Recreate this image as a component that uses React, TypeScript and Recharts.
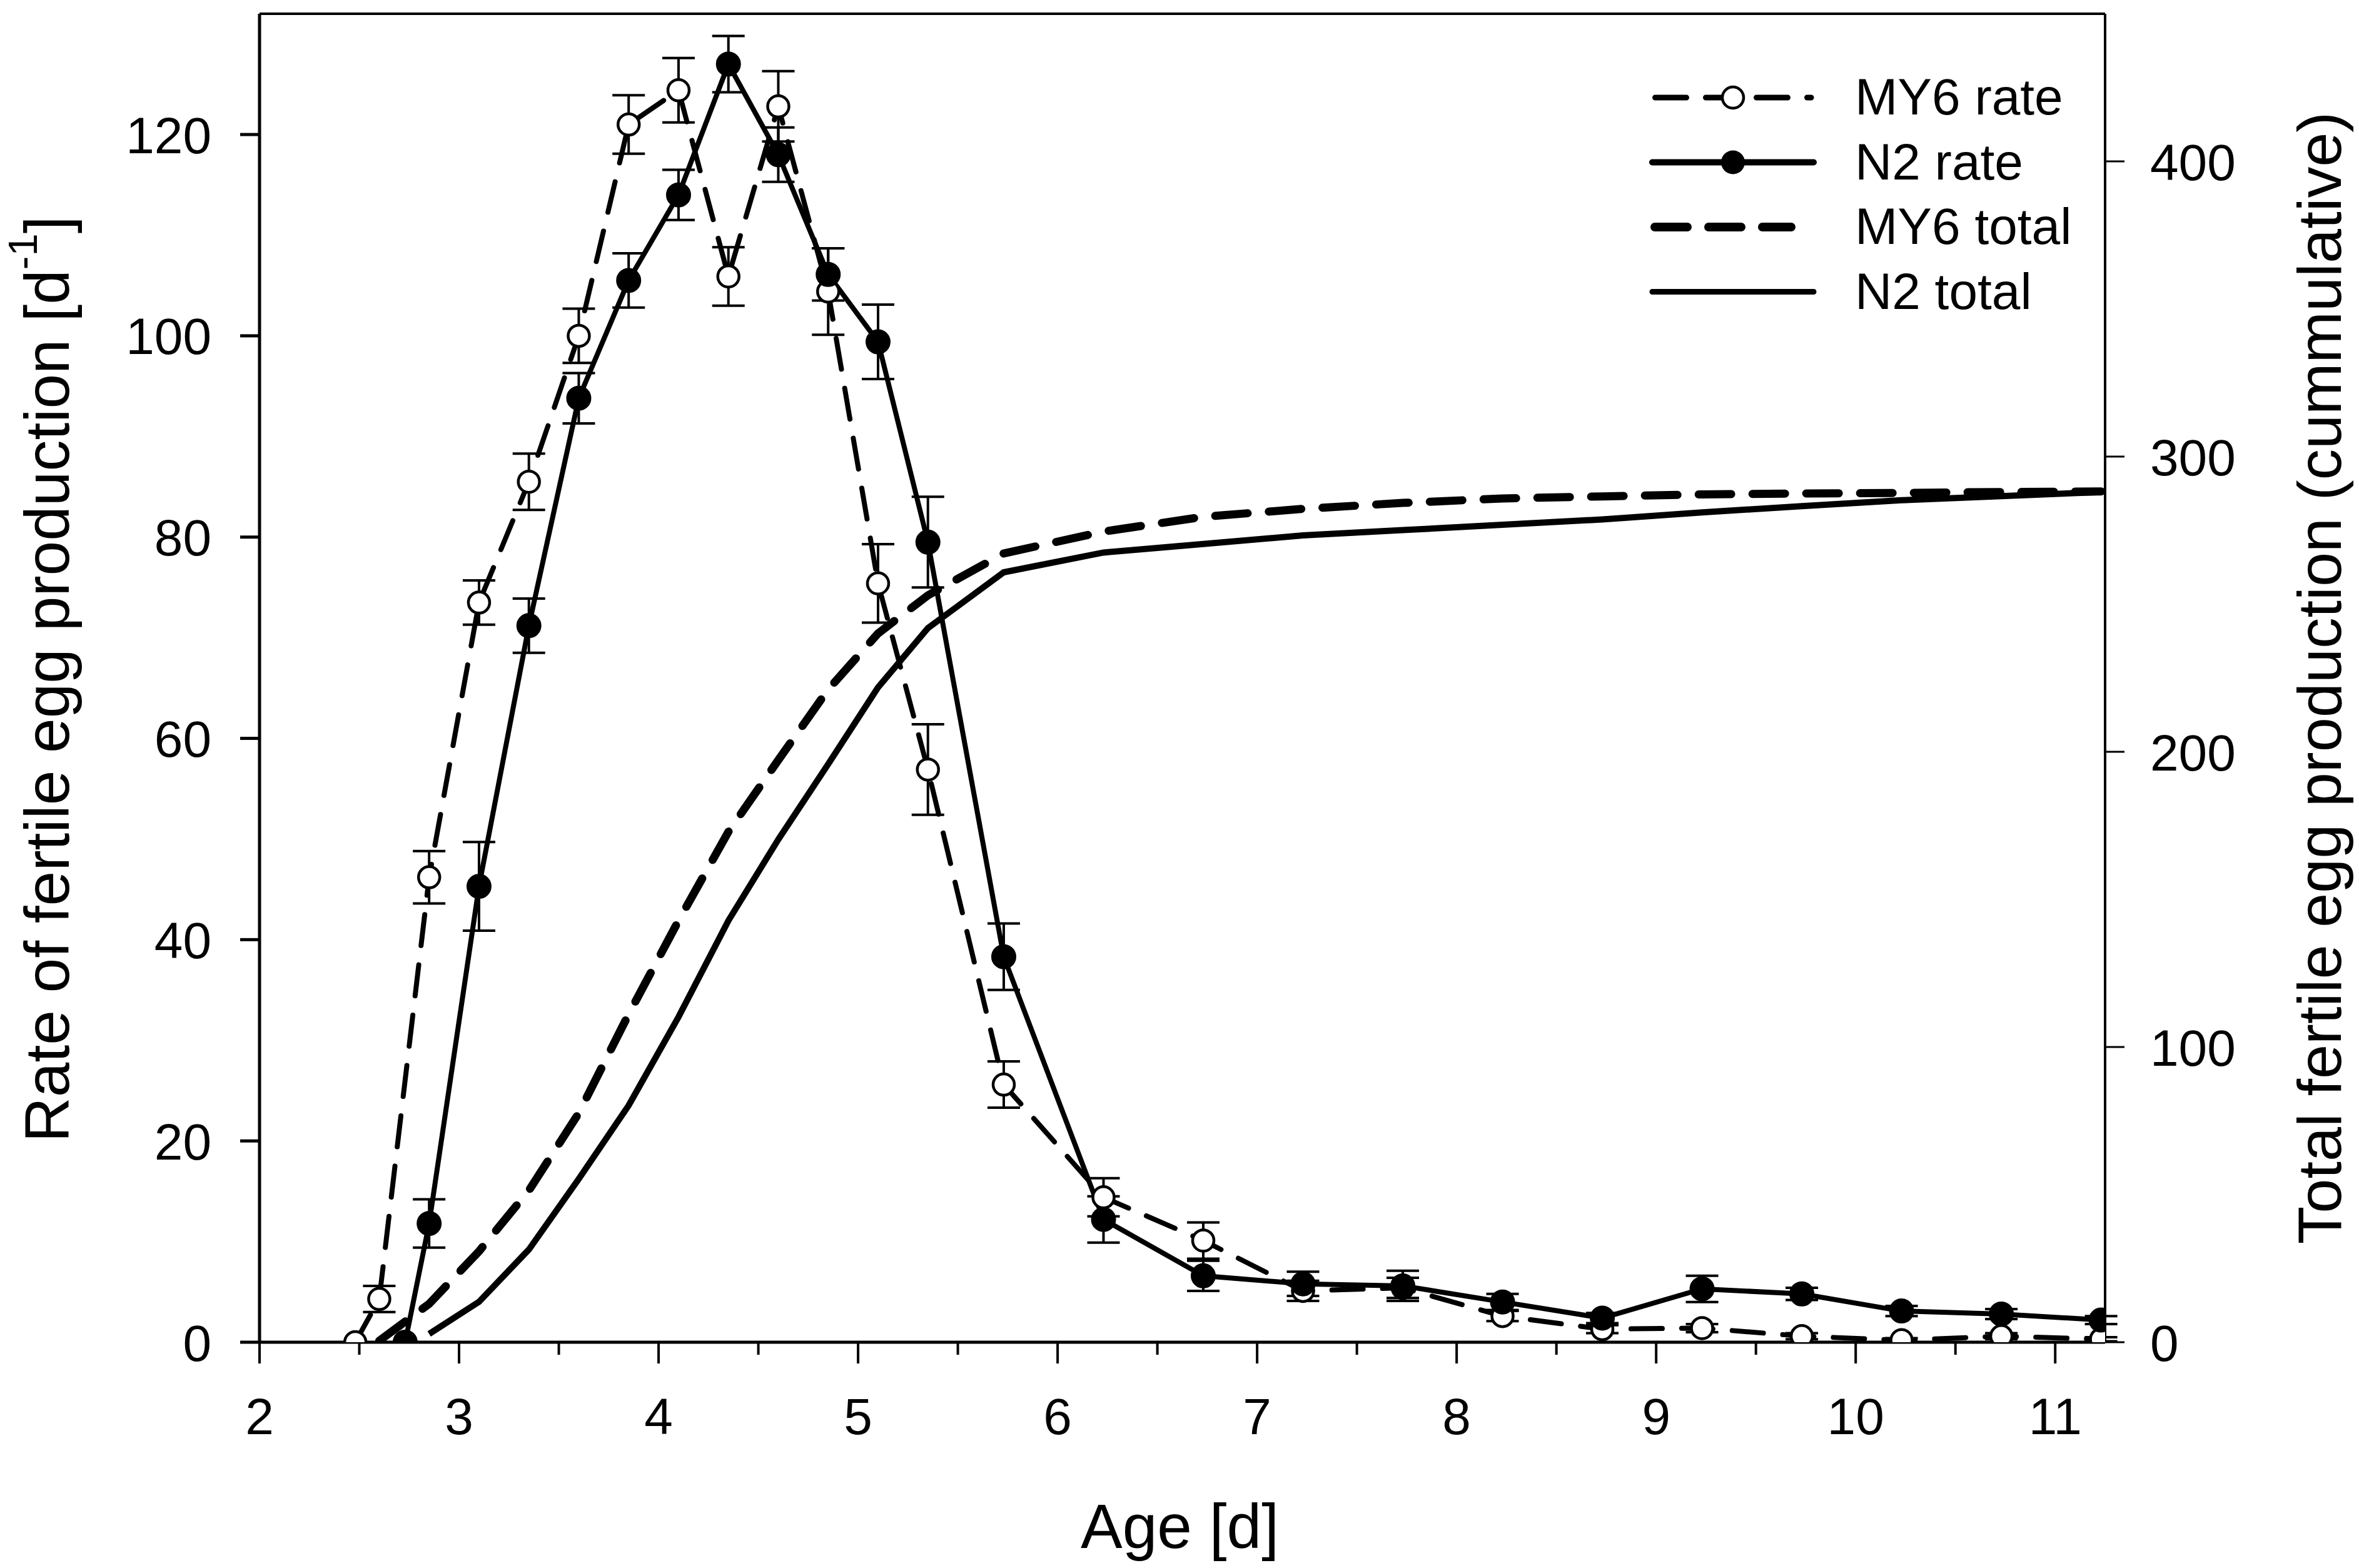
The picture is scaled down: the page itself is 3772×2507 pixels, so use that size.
import React from "react";
import {
  ComposedChart,
  Line,
  XAxis,
  YAxis,
  ErrorBar,
  Label,
  Legend,
  ReferenceLine,
} from "recharts";

const FONT = '"Liberation Sans", Arial, Helvetica, sans-serif';

// sampling ages [d]
const my6Ages = [
  2.48, 2.6, 2.85, 3.1, 3.35, 3.6, 3.85, 4.1, 4.35, 4.6, 4.85, 5.1, 5.35,
  5.73, 6.23, 6.73, 7.23, 7.73, 8.23, 8.73, 9.23, 9.73, 10.23, 10.73, 11.23,
];
const n2Ages = [
  2.73, 2.85, 3.1, 3.35, 3.6, 3.85, 4.1, 4.35, 4.6, 4.85, 5.1, 5.35, 5.73,
  6.23, 6.73, 7.23, 7.73, 8.23, 8.73, 9.23, 9.73, 10.23, 10.73, 11.23,
];

// rate of fertile egg production [d-1] and its error
const my6Rate = [
  0, 4.3, 46.2, 73.5, 85.5, 100.0, 121.0, 124.4, 105.9, 122.8, 104.4, 75.4,
  56.9, 25.6, 14.4, 10.1, 5.1, 5.4, 2.6, 1.3, 1.4, 0.6, 0.2, 0.6, 0.3,
];
const my6RateErr = [
  0, 1.3, 2.6, 2.2, 2.8, 2.7, 2.9, 3.2, 2.9, 3.5, 4.3, 3.9, 4.5, 2.3, 1.9,
  1.8, 1.0, 1.0, 0.5, 0.4, 0.4, 0.3, 0.2, 0.3, 0.2,
];
const n2Rate = [
  0, 11.8, 45.3, 71.2, 93.8, 105.5, 114.0, 127.0, 118.0, 106.1, 99.4, 79.5,
  38.3, 12.2, 6.6, 5.8, 5.6, 4.0, 2.4, 5.3, 4.8, 3.1, 2.8, 2.2,
];
const n2RateErr = [
  0, 2.4, 4.4, 2.7, 2.5, 2.7, 2.5, 2.8, 2.7, 2.6, 3.7, 4.5, 3.3, 2.3, 1.5,
  1.2, 1.5, 0.8, 0.5, 1.3, 0.6, 0.5, 0.5, 0.4,
];

// cumulative totals (MY6 from 2.6 d, N2 from 2.85 d)
const my6Total = [
  0.5, 13.0, 30.8, 51.4, 77.6, 111.1, 142.8, 172.9, 197.2, 221.1, 240.1,
  253.0, 267.2, 274.6, 279.6, 282.3, 284.3, 285.8, 286.5, 287.2, 287.5, 287.7,
  288.0, 288.2,
];
const n2Total = [
  2.8, 13.7, 31.4, 55.3, 80.2, 110.2, 142.8, 170.3, 195.8, 221.8, 241.9,
  260.8, 267.5, 270.4, 273.3, 275.1, 276.9, 278.7, 281.1, 283.2, 285.2, 286.6,
  288.0,
];

const xTicks = [
  2, 2.5, 3, 3.5, 4, 4.5, 5, 5.5, 6, 6.5, 7, 7.5, 8, 8.5, 9, 9.5, 10, 10.5, 11,
];
const leftTicks = [0, 20, 40, 60, 80, 100, 120];
const rightTicks = [0, 100, 200, 300, 400];

const legendLabels = ["MY6 rate", "N2 rate", "MY6 total", "N2 total"];

const my6RateRows = my6Ages.map((age, i) => ({
  age,
  rate: my6Rate[i],
  err: my6RateErr[i],
}));
const n2RateRows = n2Ages.map((age, i) => ({
  age,
  rate: n2Rate[i],
  err: n2RateErr[i],
}));
const my6TotalRows = my6Ages.slice(1).map((age, i) => ({ age, total: my6Total[i] }));
const n2TotalRows = n2Ages.slice(1).map((age, i) => ({ age, total: n2Total[i] }));

const XTick = ({ x, y, payload }: any) => {
  const major = Number.isInteger(payload.value);
  return (
    <g>
      <line x1={x} x2={x} y1={y} y2={y + (major ? 34 : 20)} stroke="#000" strokeWidth={4} />
      {major && (
        <text x={x} y={y + 147} textAnchor="middle" fontSize={82} fontFamily={FONT} fill="#000">
          {payload.value}
        </text>
      )}
    </g>
  );
};

const LeftTick = ({ x, y, payload }: any) => (
  <g>
    <line x1={x - 31} x2={x} y1={y} y2={y} stroke="#000" strokeWidth={5} />
    <text x={x - 77} y={y} dy="0.36em" textAnchor="end" fontSize={82} fontFamily={FONT} fill="#000">
      {payload.value}
    </text>
  </g>
);

const RightTick = ({ x, y, payload }: any) => (
  <g>
    <line x1={x} x2={x + 31} y1={y} y2={y} stroke="#000" strokeWidth={3} />
    <text x={x + 72} y={y} dy="0.36em" textAnchor="start" fontSize={82} fontFamily={FONT} fill="#000">
      {payload.value}
    </text>
  </g>
);

const XTitle = ({ viewBox }: any) => {
  const vb = viewBox || { x: 415, y: 2146, width: 2951, height: 361 };
  return (
    <text x={vb.x + vb.width / 2 - 4} y={vb.y + 329} textAnchor="middle" fontSize={100} fontFamily={FONT} fill="#000">
      Age [d]
    </text>
  );
};

const LeftTitle = ({ viewBox }: any) => {
  const vb = viewBox || { x: 0, y: 22, width: 415, height: 2124 };
  const cx = vb.x + 110;
  const cy = vb.y + vb.height / 2 + 2;
  return (
    <text transform={`translate(${cx},${cy}) rotate(-90)`} textAnchor="middle" fontSize={100} fontFamily={FONT} fill="#000">
      <tspan>Rate of fertile egg production [d</tspan>
      <tspan fontSize={65} dy={-51}>-1</tspan>
      <tspan dy={51}>]</tspan>
    </text>
  );
};

const RightTitle = ({ viewBox }: any) => {
  const vb = viewBox || { x: 3366, y: 22, width: 406, height: 2124 };
  const cx = vb.x + 377;
  const cy = vb.y + vb.height / 2;
  return (
    <text transform={`translate(${cx},${cy}) rotate(-90)`} textAnchor="middle" fontSize={99} fontFamily={FONT} fill="#000">
      Total fertile egg production (cummulative)
    </text>
  );
};

const LegendBox = () => {
  const rowY = (i: number) => 56 + i * 103.5;
  return (
    <svg width={900} height={420} style={{ display: "block" }}>
      <line x1={46.5} x2={296} y1={rowY(0)} y2={rowY(0)} stroke="#000" strokeWidth={9} strokeDasharray="50 31" strokeLinecap="round" />
      <circle cx={171} cy={rowY(0)} r={17} fill="#fff" stroke="#000" strokeWidth={4.5} />
      <line x1={42} x2={300} y1={rowY(1)} y2={rowY(1)} stroke="#000" strokeWidth={10} strokeLinecap="round" />
      <circle cx={171} cy={rowY(1)} r={19} fill="#000" />
      <line x1={46} x2={264} y1={rowY(2)} y2={rowY(2)} stroke="#000" strokeWidth={14} strokeDasharray="52 34" strokeLinecap="round" />
      <line x1={42} x2={300} y1={rowY(3)} y2={rowY(3)} stroke="#000" strokeWidth={9} strokeLinecap="round" />
      {legendLabels.map((label, i) => (
        <text key={label} x={366} y={rowY(i) + 27} fontSize={82} fontFamily={FONT} fill="#000">
          {label}
        </text>
      ))}
    </svg>
  );
};

export default function App() {
  return (
    <div style={{ width: 3772, height: 2507, background: "#fff" }}>
      <style>{"body{margin:0}"}</style>
      <ComposedChart width={3772} height={2507} margin={{ top: 22, right: 0, bottom: 0, left: 0 }}>
        <XAxis
          dataKey="age"
          type="number"
          domain={[2, 11.25]}
          ticks={xTicks}
          interval={0}
          allowDataOverflow
          height={361}
          tickLine={false}
          tickSize={0}
          tickMargin={0}
          tick={<XTick />}
          axisLine={{ stroke: "#000", strokeWidth: 5 }}
        >
          <Label content={<XTitle />} />
        </XAxis>
        <YAxis
          yAxisId="left"
          orientation="left"
          type="number"
          domain={[0, 132]}
          ticks={leftTicks}
          interval={0}
          allowDataOverflow
          width={415}
          tickLine={false}
          tickSize={0}
          tickMargin={0}
          tick={<LeftTick />}
          axisLine={{ stroke: "#000", strokeWidth: 5 }}
        >
          <Label content={<LeftTitle />} />
        </YAxis>
        <YAxis
          yAxisId="right"
          orientation="right"
          type="number"
          domain={[0, 450]}
          ticks={rightTicks}
          interval={0}
          allowDataOverflow
          width={406}
          tickLine={false}
          tickSize={0}
          tickMargin={0}
          tick={<RightTick />}
          axisLine={{ stroke: "#000", strokeWidth: 4 }}
        >
          <Label content={<RightTitle />} />
        </YAxis>
        <ReferenceLine yAxisId="left" y={132} stroke="#000" strokeWidth={4} />
        <Legend
          layout="vertical"
          align="center"
          verticalAlign="middle"
          wrapperStyle={{ left: 2600, top: 100, width: 900, height: 420 }}
          content={() => <LegendBox />}
        />

        <Line
          data={my6TotalRows}
          dataKey="total"
          yAxisId="right"
          type="linear"
          stroke="#000"
          strokeWidth={13}
          strokeDasharray="52 34"
          strokeLinecap="round"
          dot={false}
          activeDot={false}
          isAnimationActive={false}
        />
        <Line
          data={n2TotalRows}
          dataKey="total"
          yAxisId="right"
          type="linear"
          stroke="#000"
          strokeWidth={10}
          dot={false}
          activeDot={false}
          isAnimationActive={false}
        />
        <Line
          data={my6RateRows}
          dataKey="rate"
          yAxisId="left"
          type="linear"
          stroke="#000"
          strokeWidth={8}
          strokeDasharray="50 31"
          strokeLinecap="round"
          dot={{ r: 17, fill: "#fff", stroke: "#000", strokeWidth: 4.5, strokeDasharray: "none" }}
          activeDot={false}
          isAnimationActive={false}
        >
          <ErrorBar dataKey="err" direction="y" width={26} strokeWidth={4} stroke="#000" />
        </Line>
        <Line
          data={n2RateRows}
          dataKey="rate"
          yAxisId="left"
          type="linear"
          stroke="#000"
          strokeWidth={8}
          dot={{ r: 19, fill: "#000", stroke: "#000", strokeWidth: 2 }}
          activeDot={false}
          isAnimationActive={false}
        >
          <ErrorBar dataKey="err" direction="y" width={26} strokeWidth={4} stroke="#000" />
        </Line>
      </ComposedChart>
    </div>
  );
}
